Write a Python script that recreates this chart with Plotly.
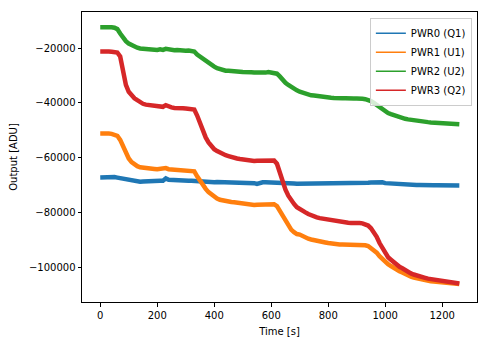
import plotly.graph_objects as go

# Sample times [s], every 10 s
time_s = list(range(0, 1261, 10))

# Detector outputs [ADU], one value per sample time (rows of 100 s)
pwr0_q1 = [
    -67200, -67100, -67000, -66900, -66900, -67100, -67300, -67500, -67800, -68000,
    -68300, -68500, -68700, -68700, -68800, -68700, -68600, -68700, -68700, -68600,
    -68500, -68400, -68400, -67600, -68100, -68200, -68300, -68400, -68400, -68300,
    -68300, -68400, -68400, -68500, -68500, -68700, -68800, -69000, -69100, -69100,
    -69000, -68900, -68900, -69000, -69000, -69000, -69000, -68900, -68900, -69000,
    -69100, -69100, -69200, -69200, -69300, -69600, -69200, -69000, -69000, -69000,
    -69000, -69100, -69100, -69200, -69200, -69300, -69300, -69400, -69400, -69500,
    -69500, -69500, -69500, -69600, -69600, -69500, -69500, -69400, -69400, -69300,
    -69300, -69200, -69200, -69200, -69200, -69300, -69300, -69200, -69200, -69300,
    -69300, -69300, -69300, -69200, -69200, -69100, -69000, -68800, -68700, -69000,
    -69300, -69400, -69500, -69600, -69600, -69700, -69700, -69800, -69800, -69900,
    -69900, -70000, -70000, -70100, -70100, -70000, -70000, -70100, -70100, -70100,
    -70100, -70200, -70200, -70100, -70100, -70200, -70200,
]
pwr1_u1 = [
    -51200, -51100, -51300, -51200, -51300, -51500, -52000, -53500, -56000, -58400,
    -60300, -61600, -62500, -63100, -63500, -63700, -63900, -64000, -64100, -64100,
    -64200, -64100, -64300, -63800, -64200, -64300, -64400, -64400, -64400, -64500,
    -64600, -64700, -64700, -65000, -66800, -68600, -70100, -71400, -72600, -73500,
    -74300, -74900, -75400, -75700, -75800, -76000, -76200, -76300, -76500, -76600,
    -76800, -77000, -77100, -77200, -77300, -77200, -77100, -77000, -76900, -76800,
    -76700, -77000, -77700, -79400, -81500, -83400, -85000, -86300, -87200, -87900,
    -88100, -88700, -89200, -89600, -89900, -90200, -90400, -90600, -90800, -91000,
    -91200, -91400, -91500, -91600, -91700, -91700, -91700, -91800, -91800, -91800,
    -91700, -91700, -91700, -92000, -92300, -93000, -93700, -94700, -96000, -97100,
    -98000, -98900, -99600, -100400, -101000, -101500, -102000, -102600, -103100, -103500,
    -103800, -104100, -104400, -104700, -104900, -105100, -105200, -105300, -105400, -105500,
    -105600, -105700, -105800, -105900, -106000, -106100, -106200,
]
pwr2_u2 = [
    -12300, -12200, -12400, -12300, -12300, -12500, -13000, -14600, -16200, -17400,
    -18300, -18900, -19400, -19800, -20100, -20200, -20400, -20400, -20600, -20500,
    -20600, -20400, -20600, -20200, -20500, -20600, -20700, -20600, -20800, -20700,
    -20900, -20800, -21000, -21200, -22300, -23100, -23900, -24700, -25400, -26100,
    -26700, -27300, -27700, -28000, -28200, -28200, -28400, -28300, -28500, -28600,
    -28700, -28600, -28900, -28800, -28900, -29000, -28800, -28900, -28900, -28700,
    -28800, -28900, -29300, -30300, -31600, -32600, -33400, -34200, -34900, -35400,
    -35900, -36300, -36600, -36900, -37200, -37300, -37500, -37700, -37800, -37800,
    -38000, -38100, -38200, -38100, -38200, -38300, -38300, -38200, -38300, -38400,
    -38400, -38300, -38500, -38600, -38900, -39300, -40000, -40800, -41700, -42500,
    -43100, -43700, -44100, -44500, -44900, -45200, -45500, -45800, -46000, -46200,
    -46400, -46500, -46700, -46800, -46900, -47000, -47100, -47200, -47300, -47300,
    -47500, -47500, -47600, -47600, -47700, -47700, -47800,
]
pwr3_q2 = [
    -21200, -21100, -21300, -21200, -21300, -21400, -21600, -23000, -29300, -33400,
    -35900, -37400, -38300, -39000, -39700, -40300, -40600, -40800, -41000, -41100,
    -41300, -41200, -41400, -40800, -41300, -41600, -41800, -41700, -41900, -41900,
    -42000, -42100, -42100, -42400, -44600, -47600, -50300, -52600, -54400, -55900,
    -56900, -57600, -58200, -58700, -59100, -59400, -59800, -60000, -60300, -60500,
    -60700, -60800, -61000, -61100, -61200, -61100, -61100, -61000, -60900, -60800,
    -60800, -61000, -62200, -65800, -68800, -71700, -73900, -75600, -76900, -78100,
    -78600, -79400, -80000, -80600, -81100, -81500, -81800, -82100, -82300, -82600,
    -82800, -83000, -83200, -83400, -83500, -83600, -83800, -83800, -83900, -83800,
    -83900, -83900, -84000, -84300, -84800, -85800, -87100, -88900, -91200, -93100,
    -94900, -96400, -97300, -98300, -99100, -99900, -100400, -101100, -101800, -102300,
    -102700, -103100, -103400, -103700, -103900, -104200, -104400, -104600, -104800, -105000,
    -105200, -105400, -105500, -105700, -105800, -105900, -106000,
]

series = [
    ("PWR0 (Q1)", pwr0_q1, "#1f77b4"),
    ("PWR1 (U1)", pwr1_u1, "#ff7f0e"),
    ("PWR2 (U2)", pwr2_u2, "#2ca02c"),
    ("PWR3 (Q2)", pwr3_q2, "#d62728"),
]

x_ticks = [0, 200, 400, 600, 800, 1000, 1200]
y_ticks = [-100000, -80000, -60000, -40000, -20000]
y_tick_text = [f"\u2212{abs(v)}" for v in y_ticks]

fig = go.Figure()
for name, values, color in series:
    # noisy signal drawn as a broad band
    fig.add_trace(go.Scatter(
        x=time_s, y=values, mode="lines", name=name, legendgroup=name,
        line=dict(color=color, width=4.5), showlegend=False,
    ))
for name, values, color in series:
    # legend entry with a thin line key
    fig.add_trace(go.Scatter(
        x=[None], y=[None], mode="lines", name=name, legendgroup=name,
        line=dict(color=color, width=1.5), showlegend=True,
    ))

font = dict(family="DejaVu Sans", size=10, color="black")
axis_common = dict(
    showline=True, linecolor="black", linewidth=1, mirror=True,
    ticks="outside", ticklen=3.5, tickwidth=1, tickcolor="black",
    showgrid=False, zeroline=False, tickfont=font,
)

fig.update_layout(
    width=489, height=347,
    margin=dict(l=82, r=11, t=11, b=40),
    paper_bgcolor="white", plot_bgcolor="white",
    font=font,
    xaxis=dict(
        range=[-64, 1322], tickvals=x_ticks,
        title=dict(text="Time [s]", font=font, standoff=8),
        **axis_common,
    ),
    yaxis=dict(
        range=[-112750, -6750], tickvals=y_ticks, ticktext=y_tick_text,
        title=dict(text="Output [ADU]", font=font, standoff=9),
        **axis_common,
    ),
    legend=dict(
        x=0.987, y=0.98, xanchor="right", yanchor="top",
        bgcolor="rgba(255,255,255,0.8)", bordercolor="#cccccc", borderwidth=1,
        font=font, itemwidth=30, tracegroupgap=0,
    ),
    showlegend=True,
)

fig.write_html("out.html")
